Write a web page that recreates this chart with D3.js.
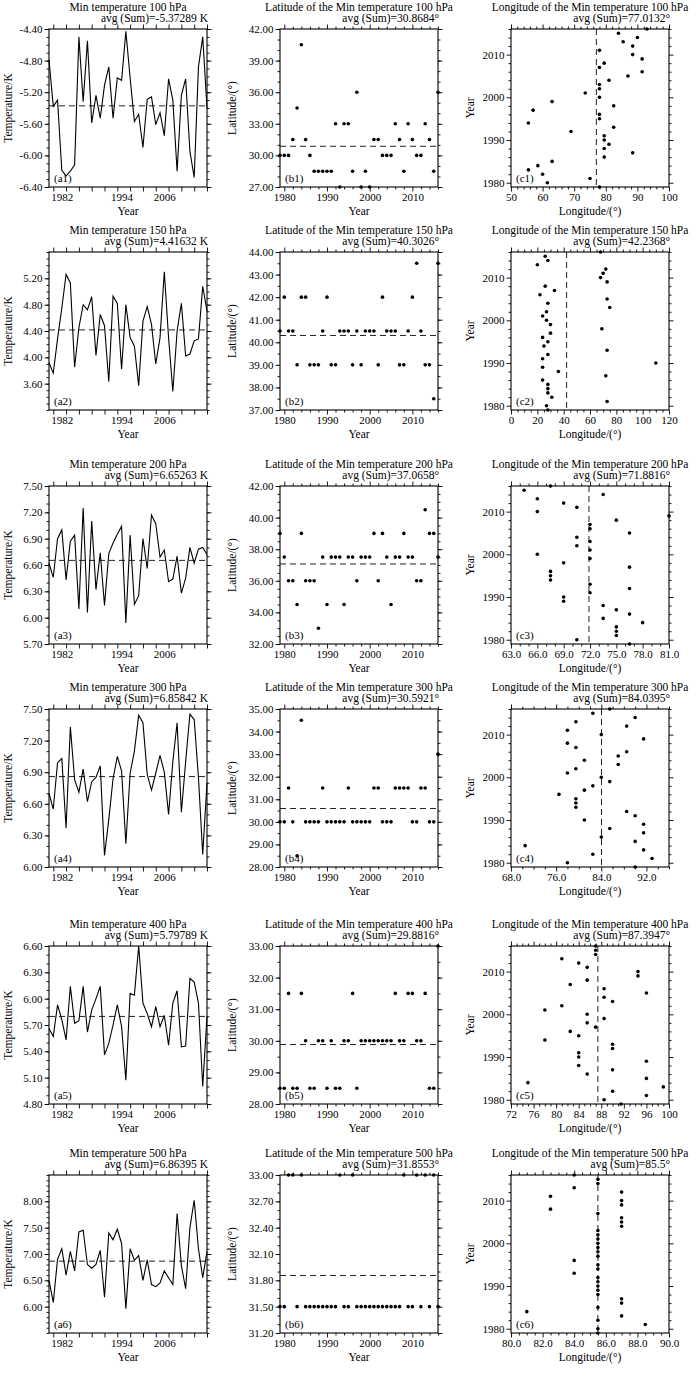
<!DOCTYPE html>
<html><head><meta charset="utf-8">
<script src="https://cdn.jsdelivr.net/npm/d3@7/dist/d3.min.js"></script>
<style>
body{margin:0;background:#fff}
text{font-family:"Liberation Serif","Times New Roman",serif;fill:#000}
</style>
</head><body>
<svg id="chart" width="700" height="1393"></svg>
<script>
// ---------------- data ----------------
const years = [1979,1980,1981,1982,1983,1984,1985,1986,1987,1988,1989,1990,1991,1992,1993,1994,1995,1996,1997,1998,1999,2000,2001,2002,2003,2004,2005,2006,2007,2008,2009,2010,2011,2012,2013,2014,2015,2016];
const levels = ["100","150","200","300","400","500"];
const tempAvg = ["-5.37289","4.41632","6.65263","6.85842","5.79789","6.86395"];
const latAvg  = ["30.8684","40.3026","37.0658","30.5921","29.8816","31.8553"];
const lonAvg  = ["77.0132","42.2368","71.8816","84.0395","87.3947","85.5"];

// column a: min temperature (K)
const temp100 = [-4.79,-5.38,-5.30,-6.19,-6.26,-6.20,-6.12,-4.50,-5.32,-4.55,-5.59,-5.24,-5.53,-5.11,-4.88,-5.53,-5.02,-5.05,-4.43,-5.02,-5.57,-5.48,-5.90,-5.29,-5.26,-5.61,-5.46,-5.75,-5.03,-5.30,-6.20,-5.24,-5.03,-5.95,-6.28,-4.88,-4.50,-5.40];
const temp150 = [3.92,3.76,4.28,4.75,5.26,5.13,3.85,4.45,4.80,4.72,4.92,4.03,4.65,4.48,3.63,4.93,4.82,3.82,4.80,4.30,4.17,3.57,4.55,4.77,4.50,3.90,4.30,5.30,4.30,3.48,4.40,4.82,4.02,4.05,4.25,4.28,5.08,4.70];
const temp200 = [6.62,6.46,6.90,7.00,6.43,6.87,6.94,6.10,7.25,6.06,7.10,6.32,6.74,6.14,6.73,6.85,6.95,7.04,5.94,6.94,6.15,6.25,6.90,6.56,7.17,7.07,6.69,6.77,6.41,6.44,6.70,6.28,6.45,6.80,6.62,6.78,6.80,6.72];
const temp300 = [6.70,6.55,6.99,7.03,6.37,7.33,6.83,6.71,6.93,6.62,6.81,6.85,6.96,6.11,6.45,6.84,7.05,6.91,6.22,6.89,7.10,7.44,7.37,6.88,6.73,6.89,7.06,6.90,6.50,7.00,7.37,6.52,7.00,7.45,7.40,6.85,6.12,6.80];
const temp400 = [5.66,5.57,5.93,5.76,5.53,6.14,5.72,5.75,6.14,5.62,5.87,6.00,6.14,5.36,5.49,5.70,5.93,5.68,5.07,6.06,6.04,6.60,5.95,5.83,5.68,5.91,5.68,5.81,5.47,5.95,6.09,5.45,5.46,6.23,6.19,5.95,5.00,5.80];
const temp500 = [6.50,6.08,6.90,7.10,6.60,7.05,6.68,7.42,7.45,6.80,6.73,6.80,7.07,6.18,7.40,7.27,7.47,7.20,5.96,7.10,6.88,6.97,6.50,6.89,6.42,6.38,6.45,6.68,6.55,6.42,7.77,6.78,6.34,7.50,8.02,7.10,6.55,7.05];

// column b: latitude of the minimum (deg)
const lat100 = [30,30,30,31.5,34.5,40.5,31.5,30,28.5,28.5,28.5,28.5,28.5,33,27,33,33,28.5,36,27,28.5,27,31.5,31.5,30,30,30,33,31.5,28.5,33,31.5,30,30,33,31.5,28.5,36];
const lat150 = [40.5,42,40.5,40.5,39,42,42,39,39,39,40.5,42,39,39,40.5,40.5,40.5,39,40.5,39,40.5,40.5,40.5,39,42,40.5,40.5,40.5,39,39,40.5,42,43.5,40.5,39,39,37.5,43.5];
const lat200 = [39,37.5,36,36,34.5,39,36,36,36,33,37.5,34.5,37.5,37.5,37.5,34.5,37.5,37.5,36,37.5,37.5,37.5,39,36,39,37.5,34.5,37.5,37.5,39,37.5,37.5,36,36,40.5,39,39,37.5];
const lat300 = [30,30,31.5,30,28.5,34.5,30,30,30,30,31.5,30,30,30,30,30,31.5,30,30,30,30,30,31.5,31.5,30,30,30,31.5,31.5,31.5,31.5,30,30,31.5,31.5,30,30,33];
const lat400 = [28.5,28.5,31.5,28.5,28.5,31.5,30,28.5,28.5,30,30,28.5,30,28.5,28.5,30,30,31.5,28.5,30,30,30,30,30,30,30,30,31.5,30,30,31.5,31.5,30,30,31.5,28.5,28.5,33];
const lat500 = [31.5,31.5,33,33,31.5,33,31.5,31.5,31.5,31.5,31.5,31.5,31.5,31.5,33,31.5,31.5,33,31.5,31.5,31.5,31.5,31.5,31.5,31.5,31.5,31.5,31.5,31.5,33,31.5,31.5,33,31.5,33,31.5,33,31.5];

// column c: longitude of the minimum (deg)
const lon100 = [78,61.5,75,60,55.5,58.5,63,79.5,88.5,79.5,81,79.5,79.5,69,82.5,55.5,78,78,57,82.5,63,78,73.5,78,78,81,87,91.5,78,79.5,91.5,88.5,78,88.5,85.5,90,84,93];
const lon150 = [28,27,73,31,28,28,28,24,72,36,24,110,24,28,73,25,28,24,30,69,30,27,24,27,75,28,73,22,33,26,73,68,70,72,20,28,26,68];
const lon200 = [76.5,70.5,75,75,75,78,73.5,76.5,75,73.5,69,69,72,76.5,72,67.5,67.5,67.5,76.5,69,72,66,72,70.5,72,70.5,76.5,72,72,75,81,66,70.5,69,66,73.5,64.5,67.5];
const lon300 = [90,78,93,82.5,91.5,70.5,90,84,91.5,85.5,91.5,81,90,88.5,79.5,79.5,79.5,76.5,81,82.5,85.5,84,78,79.5,87,81,87,88.5,79.5,78,91.5,84,78,88.5,79.5,90,82.5,85.5];
const lon400 = [91.5,88.5,96,90,99,75,96,85.5,90,84,96,84,84,90,90,78,84,82.5,87,85.5,88.5,85.5,78,81,90,88.5,96,88.5,82.5,85.5,94.5,94.5,85.5,84,81,87,87,87];
const lon500 = [85.5,85.5,88.5,85.5,87,81,85.5,87,87,85.5,85.5,85.5,85.5,85.5,84,85.5,85.5,84,85.5,85.5,85.5,85.5,85.5,85.5,85.5,87,87,87,85.5,82.5,87,87,82.5,87,84,85.5,85.5,84];

// axis settings (tick labels)
const tempDomains = [[-6.4,-4.4],[3.2,5.6],[5.7,7.5],[6.0,7.5],[4.8,6.6],[5.5,8.5]];
const tempTicks = [[-6.4,-6.0,-5.6,-5.2,-4.8,-4.4],[3.6,4.0,4.4,4.8,5.2],[5.7,6.0,6.3,6.6,6.9,7.2,7.5],[6.0,6.3,6.6,6.9,7.2,7.5],[4.8,5.1,5.4,5.7,6.0,6.3,6.6],[6.0,6.5,7.0,7.5,8.0]];
const tempMinor = [0.1,0.1,0.1,0.1,0.1,0.1];
const latDomains = [[27,42],[37,44],[32,42],[28,35],[28,33],[31.2,33.0]];
const latTicks = [[27,30,33,36,39,42],[37,38,39,40,41,42,43,44],[32,34,36,38,40,42],[28,29,30,31,32,33,34,35],[28,29,30,31,32,33],[31.2,31.5,31.8,32.1,32.4,32.7,33.0]];
const latMinor = [1,0.5,0.5,0.5,0.5,0.1];
const lonDomains = [[50,100],[0,120],[63,81],[68,96],[72,100],[80,90]];
const lonTicks = [[50,60,70,80,90,100],[0,20,40,60,80,100,120],[63,66,69,72,75,78,81],[68,76,84,92],[72,76,80,84,88,92,96,100],[80,82,84,86,88,90]];
const lonMinor = [2,5,1,2,1,0.5];
const lonDecimals = [0,0,1,1,0,1];
// year labels of column a, and where the reference prints them on the year axis
const yearTickLabA = ["1982","1994","2006"];
const yearTickPosA = [1982, 1996, 2006];
const yearTicksB = [1980,1990,2000,2010];

const tempSeries = [temp100,temp150,temp200,temp300,temp400,temp500];
const latSeries = [lat100,lat150,lat200,lat300,lat400,lat500];
const lonSeries = [lon100,lon150,lon200,lon300,lon400,lon500];

// ---------------- layout ----------------
const W = 158, H = 158;
const colX = [49, 280, 511];
const rowY = [29, 252, 486, 709, 946, 1175];
const FS = 11;
const svg = d3.select("#chart");

function minorVals(dom, step){
  const lo = Math.min(dom[0],dom[1]), hi = Math.max(dom[0],dom[1]);
  const out = [];
  const n0 = Math.ceil(lo/step - 1e-6), n1 = Math.floor(hi/step + 1e-6);
  for (let k=n0;k<=n1;k++) out.push(+(k*step).toFixed(6));
  return out;
}

function frameAxes(g, x, y, o){
  const mk = (gen, tr, vals, size, fmt, pad) => {
    const a = g.append("g").attr("transform", tr)
      .call(gen.tickValues(vals).tickSize(size).tickSizeOuter(0).tickPadding(pad==null?2:pad).tickFormat(fmt || (()=>"")));
    a.select(".domain").remove();
    a.selectAll("line").attr("stroke","#000").attr("stroke-width",0.9);
    a.selectAll("text").attr("font-size",FS).attr("font-family",'"Liberation Serif",serif').attr("fill","#000");
    return a;
  };
  mk(d3.axisBottom(x), `translate(0,${H})`, o.xMin, 2.5);
  mk(d3.axisTop(x), `translate(0,0)`, o.xMin, 2.5);
  mk(d3.axisBottom(x), `translate(0,${H})`, o.xMaj, 4.5);
  mk(d3.axisTop(x), `translate(0,0)`, o.xMaj, 4.5);
  mk(d3.axisBottom(x), `translate(0,${H})`, o.xLab, 0, o.xFmt, 6.5);
  mk(d3.axisLeft(y), `translate(0,0)`, o.yMin, 2.5);
  mk(d3.axisRight(y), `translate(${W},0)`, o.yMin, 2.5);
  mk(d3.axisLeft(y), `translate(0,0)`, o.yMaj, 4.5, o.yFmt);
  mk(d3.axisRight(y), `translate(${W},0)`, o.yMaj, 4.5);
  g.append("rect").attr("x",0).attr("y",0).attr("width",W).attr("height",H)
    .attr("fill","none").attr("stroke","#000").attr("stroke-width",1.1);
}

function titles(g, t1, t2){
  g.append("text").attr("x",W/2).attr("y",-18).attr("text-anchor","middle").attr("font-size",FS+0.5).text(t1);
  g.append("text").attr("x",W+1).attr("y",-7).attr("text-anchor","end").attr("font-size",FS+0.5).text(t2);
}

function axisTitles(g, xt, yt, yOff){
  g.append("text").attr("x",W/2).attr("y",H+28).attr("text-anchor","middle").attr("font-size",FS+0.5).text(xt);
  g.append("text").attr("transform",`translate(${yOff},${H/2}) rotate(-90)`)
    .attr("text-anchor","middle").attr("font-size",FS+0.5).text(yt);
}

function panelLabel(g, s){
  g.append("text").attr("x",5).attr("y",H-5).attr("font-size",FS).text(s);
}

const yearDom = [1979, 2016];
const yearTicks3 = minorVals(yearDom, 3);
const yearMinor2 = minorVals(yearDom, 2).filter(v => !yearTicksB.includes(v));

for (let r = 0; r < 6; r++){
  // ---- column a ----
  {
    const g = svg.append("g").attr("transform",`translate(${colX[0]},${rowY[r]})`);
    const x = d3.scaleLinear().domain(yearDom).range([0,W]);
    const y = d3.scaleLinear().domain(tempDomains[r]).range([H,0]);
    const data = years.map((yr,i)=>({yr, v: tempSeries[r][i]}));
    const av = +tempAvg[r];
    g.append("line").attr("x1",0).attr("x2",W).attr("y1",y(av)).attr("y2",y(av))
      .attr("stroke","#222").attr("stroke-width",1).attr("stroke-dasharray","6,4");
    g.append("path").datum(data).attr("fill","none").attr("stroke","#000").attr("stroke-width",1.1)
      .attr("d", d3.line().x(d=>x(d.yr)).y(d=>y(d.v)));
    frameAxes(g, x, y, {xMaj: yearTicks3, xMin: [], xLab: yearTickPosA, xFmt: (d,i)=>yearTickLabA[i],
      yMaj: tempTicks[r], yMin: minorVals(tempDomains[r], tempMinor[r]), yFmt: d=>d.toFixed(2)});
    titles(g, `Min temperature ${levels[r]} hPa`, `avg (Sum)=${tempAvg[r]} K`);
    axisTitles(g, "Year", "Temperature/K", -37);
    panelLabel(g, `(a${r+1})`);
  }
  // ---- column b ----
  {
    const g = svg.append("g").attr("transform",`translate(${colX[1]},${rowY[r]})`);
    const x = d3.scaleLinear().domain(yearDom).range([0,W]);
    const y = d3.scaleLinear().domain(latDomains[r]).range([H,0]);
    const data = years.map((yr,i)=>({yr, v: latSeries[r][i]}));
    const av = +latAvg[r];
    g.append("line").attr("x1",0).attr("x2",W).attr("y1",y(av)).attr("y2",y(av))
      .attr("stroke","#222").attr("stroke-width",1).attr("stroke-dasharray","6,4");
    g.selectAll("circle").data(data).join("circle")
      .attr("cx",d=>x(d.yr)).attr("cy",d=>y(d.v)).attr("r",1.8).attr("fill","#000");
    frameAxes(g, x, y, {xMaj: yearTicksB, xMin: yearMinor2, xLab: yearTicksB, xFmt: d=>String(d),
      yMaj: latTicks[r], yMin: minorVals(latDomains[r], latMinor[r]), yFmt: d=>d.toFixed(2)});
    titles(g, `Latitude of the Min temperature ${levels[r]} hPa`, `avg (Sum)=${latAvg[r]}°`);
    axisTitles(g, "Year", "Latitude/(°)", -44);
    panelLabel(g, `(b${r+1})`);
  }
  // ---- column c ----
  {
    const g = svg.append("g").attr("transform",`translate(${colX[2]},${rowY[r]})`);
    const x = d3.scaleLinear().domain(lonDomains[r]).range([0,W]);
    const y = d3.scaleLinear().domain(yearDom).range([H,0]);
    const data = years.map((yr,i)=>({yr, v: lonSeries[r][i]}));
    const av = +lonAvg[r];
    g.append("line").attr("x1",x(av)).attr("x2",x(av)).attr("y1",0).attr("y2",H)
      .attr("stroke","#222").attr("stroke-width",1).attr("stroke-dasharray","6,4");
    g.selectAll("circle").data(data).join("circle")
      .attr("cx",d=>x(d.v)).attr("cy",d=>y(d.yr)).attr("r",1.8).attr("fill","#000");
    frameAxes(g, x, y, {xMaj: lonTicks[r], xMin: minorVals(lonDomains[r], lonMinor[r]).filter(v=>!lonTicks[r].includes(v)),
      xLab: lonTicks[r], xFmt: d=>d.toFixed(lonDecimals[r]),
      yMaj: yearTicksB, yMin: yearMinor2, yFmt: d=>String(d)});
    titles(g, `Longitude of the Min temperature ${levels[r]} hPa`, `avg (Sum)=${lonAvg[r]}°`);
    axisTitles(g, "Longitude/(°)", "Year", -37);
    panelLabel(g, `(c${r+1})`);
  }
}
</script>
</body></html>
